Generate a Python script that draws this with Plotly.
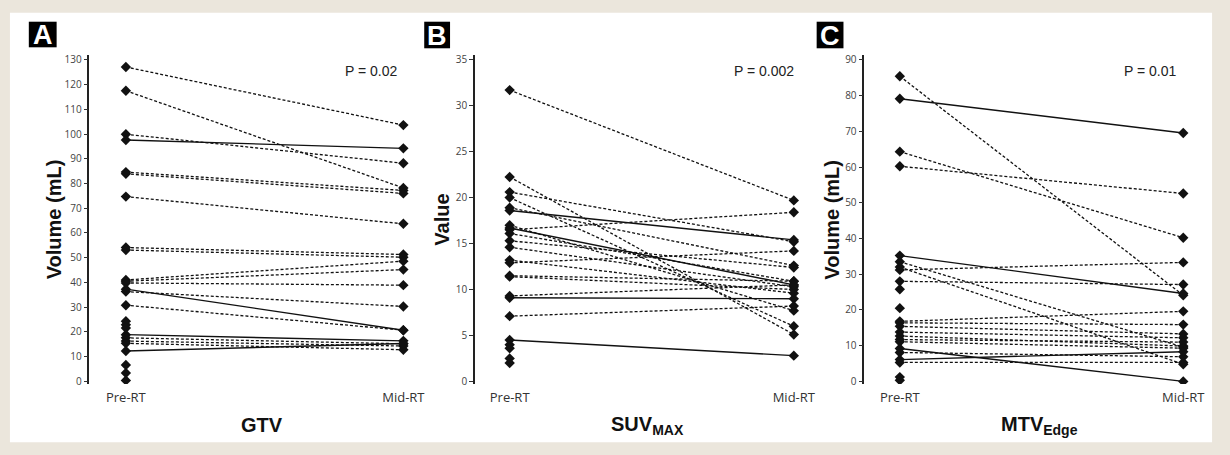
import plotly.graph_objects as go

# ---------------- data ----------------
timepoints = ["Pre-RT", "Mid-RT"]

gtv_pre = [127.1, 117.5, 99.9, 97.6, 84.6, 83.9, 74.7, 54.1, 53.1, 41.0, 40.5, 39.8,
           37.3, 36.3, 30.8, 18.9, 17.6, 16.3, 15.4, 12.3]
gtv_mid = [103.6, 78.2, 88.2, 94.2, 77.2, 76.0, 63.7, 51.3, 50.2, 48.6, 45.2, 38.9,
           20.7, 30.3, 20.7, 16.4, 15.2, 14.3, 12.8, 15.3]
gtv_group = [0, 0, 0, 1, 0, 0, 0, 0, 0, 0, 0, 0, 1, 0, 0, 1, 0, 0, 0, 1]
gtv_pre_only = [24.3, 22.9, 21.6, 6.6, 3.4, 0.4]

suv_pre = [31.7, 22.25, 20.6, 20.0, 18.9, 18.6, 17.0, 16.7, 16.5, 16.1, 15.3, 14.6,
           13.2, 12.9, 11.5, 11.4, 9.3, 9.1, 7.1, 4.5]
suv_mid = [19.7, 5.1, 15.2, 6.0, 12.6, 15.4, 7.7, 10.5, 18.4, 10.9, 12.4, 10.3,
           9.6, 14.2, 10.9, 10.0, 10.5, 9.0, 8.2, 2.8]
suv_group = [0, 0, 0, 0, 0, 1, 0, 1, 0, 0, 0, 0, 0, 0, 0, 0, 0, 1, 0, 1]
suv_pre_only = [4.0, 3.6, 2.5, 2.0]

mtv_pre = [85.4, 79.1, 64.3, 60.2, 35.2, 33.5, 32.0, 31.2, 28.0, 16.8, 16.4, 15.4,
           13.8, 12.7, 11.7, 11.1, 9.2, 8.1, 6.1, 5.3]
mtv_mid = [24.1, 69.5, 40.2, 52.6, 24.6, 9.6, 4.8, 33.3, 27.1, 19.6, 15.9, 13.3,
           12.2, 9.9, 11.0, 9.3, 0.0, 6.9, 8.3, 5.3]
mtv_group = [0, 1, 0, 0, 1, 0, 0, 0, 0, 0, 0, 0, 0, 0, 0, 0, 1, 0, 1, 0]
mtv_pre_only = [25.8, 20.5, 1.2, 0.3]

panel_letters = ["A", "B", "C"]
y_titles = ["Volume (mL)", "Value", "Volume (mL)"]
x_titles = ["GTV", "SUV<sub>MAX</sub>", "MTV<sub>Edge</sub>"]
p_values = ["P = 0.02", "P = 0.002", "P = 0.01"]
y_dticks = [10, 5, 10]

# ---------------- layout geometry (pixels) ----------------
W, H = 1230, 455
panels = [
    dict(pre=gtv_pre, mid=gtv_mid, grp=gtv_group, only=gtv_pre_only,
         axis_px=90, pre_px=126.7, mid_px=406, right_px=420,
         yrange=[-1.07, 131.75], ytitle_x=54, letter=(29, 57, 19, 45),
         xtitle_x=264, p_x=403),
    dict(pre=suv_pre, mid=suv_mid, grp=suv_group, only=suv_pre_only,
         axis_px=478, pre_px=513, mid_px=799, right_px=815,
         yrange=[-0.29, 35.47], ytitle_x=445, letter=(427, 453, 19, 46),
         xtitle_x=652, p_x=801),
    dict(pre=mtv_pre, mid=mtv_mid, grp=mtv_group, only=mtv_pre_only,
         axis_px=870, pre_px=905.7, mid_px=1191, right_px=1210,
         yrange=[-0.74, 91.21], ytitle_x=837.5, letter=(822, 849, 19, 46),
         xtitle_x=1046, p_x=1187),
]
plot_top, plot_bot = 53.3, 387.0

def px(x):
    return x / W

def py(y):
    return 1 - y / H

fig = go.Figure()
annotations = []
shapes = []

# white card on beige background
shapes.append(dict(type="rect", xref="paper", yref="paper",
                   x0=px(10), x1=px(1220), y0=py(446), y1=py(10),
                   fillcolor="white", line=dict(width=0), layer="below"))

tick_font = dict(family="Open Sans, Noto Sans, sans-serif", size=10, color="#444")

for i, p in enumerate(panels):
    n = i + 1
    xa = "x" if n == 1 else f"x{n}"
    ya = "y" if n == 1 else f"y{n}"
    span = p["mid_px"] - p["pre_px"]
    x_lo = (p["axis_px"] - p["pre_px"]) / span
    x_hi = (p["right_px"] - p["pre_px"]) / span

    for a, b, g in zip(p["pre"], p["mid"], p["grp"]):
        fig.add_trace(go.Scatter(
            x=[0, 1], y=[a, b], mode="lines+markers",
            line=dict(color="#111", width=1.4 if g else 1.3,
                      dash="solid" if g else "3px,2px"),
            marker=dict(symbol="diamond", size=8, color="#111"),
            xaxis=xa, yaxis=ya, showlegend=False, hoverinfo="skip"))
    fig.add_trace(go.Scatter(
        x=[0] * len(p["only"]), y=p["only"], mode="markers",
        marker=dict(symbol="diamond", size=8, color="#111"),
        xaxis=xa, yaxis=ya, showlegend=False, hoverinfo="skip"))

    xkey = "xaxis" if n == 1 else f"xaxis{n}"
    ykey = "yaxis" if n == 1 else f"yaxis{n}"
    fig.update_layout(**{
        xkey: dict(domain=[px(p["axis_px"]), px(p["right_px"])],
                   range=[x_lo, x_hi], anchor=ya,
                   showline=False, showgrid=False, zeroline=False,
                   tickvals=[0, 1], ticktext=timepoints, ticks="",
                   ticklabelstandoff=4,
                   tickfont=dict(family="Open Sans, Noto Sans, sans-serif",
                                 size=13, color="#333"),
                   fixedrange=True),
        ykey: dict(domain=[py(plot_bot), py(plot_top)],
                   range=p["yrange"], anchor=xa,
                   showline=True, linecolor="#222", linewidth=1.5,
                   showgrid=False, zeroline=False,
                   tick0=0, dtick=y_dticks[i],
                   ticks="outside", ticklen=4, tickcolor="#333", tickwidth=1,
                   tickfont=tick_font, fixedrange=True),
    })

    # y-axis title
    annotations.append(dict(text=y_titles[i], xref="paper", yref="paper",
                            x=px(p["ytitle_x"]), y=py(220), showarrow=False,
                            textangle=-90, xanchor="center", yanchor="middle",
                            font=dict(family="Liberation Sans, Arial, sans-serif",
                                      size=20, color="#111", weight="bold")))
    # x-axis title
    annotations.append(dict(text=x_titles[i], xref="paper", yref="paper",
                            x=px(p["xtitle_x"]), y=py(429), showarrow=False,
                            xanchor="center", yanchor="middle",
                            font=dict(family="Liberation Sans, Arial, sans-serif",
                                      size=20, color="#111", weight="bold")))
    # p-value
    annotations.append(dict(text=p_values[i], xref="paper", yref="paper",
                            x=px(p["p_x"]), y=py(69), showarrow=False,
                            xanchor="right", yanchor="middle",
                            font=dict(family="Liberation Sans, Arial, sans-serif",
                                      size=14, color="#222")))
    # panel letter box
    x0, x1, y0, y1 = p["letter"]
    shapes.append(dict(type="rect", xref="paper", yref="paper",
                       x0=px(x0), x1=px(x1), y0=py(y1), y1=py(y0),
                       fillcolor="black", line=dict(width=0)))
    annotations.append(dict(text=panel_letters[i], xref="paper", yref="paper",
                            x=px((x0 + x1) / 2), y=py((y0 + y1) / 2 + 1),
                            showarrow=False, xanchor="center", yanchor="middle",
                            font=dict(family="Liberation Sans, Arial, sans-serif",
                                      size=27, color="white", weight="bold")))

fig.update_layout(
    width=W, height=H,
    margin=dict(l=0, r=0, t=0, b=0),
    paper_bgcolor="#ebe6dc",
    plot_bgcolor="rgba(0,0,0,0)",
    annotations=annotations,
    shapes=shapes,
    showlegend=False,
)

fig.write_html("out.html", config={"displayModeBar": False})
